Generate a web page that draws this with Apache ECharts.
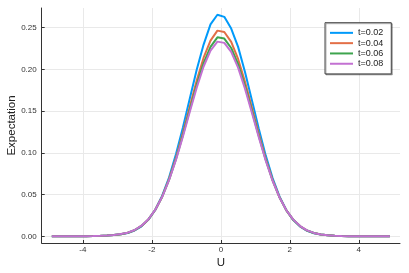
<!DOCTYPE html>
<html>
<head>
<meta charset="utf-8">
<script src="https://cdn.jsdelivr.net/npm/echarts@6/dist/echarts.min.js"></script>
<style>html,body{margin:0;padding:0;background:#fff}#c{width:409px;height:273px}</style>
</head>
<body>
<div id="c"></div>
<script>
// U grid: -4.9 .. 4.9, step 0.2
const U = [-4.9,-4.7,-4.5,-4.3,-4.1,-3.9,-3.7,-3.5,-3.3,-3.1,-2.9,-2.7,-2.5,-2.3,-2.1,-1.9,-1.7,-1.5,-1.3,-1.1,-0.9,-0.7,-0.5,-0.3,-0.1,
           0.1,0.3,0.5,0.7,0.9,1.1,1.3,1.5,1.7,1.9,2.1,2.3,2.5,2.7,2.9,3.1,3.3,3.5,3.7,3.9,4.1,4.3,4.5,4.7,4.9];
const t002 = [0,0,0,0,0,0.0001,0.0003,0.0005,0.0009,0.0015,0.0024,0.0040,0.0070,0.0120,0.0200,0.0318,0.0487,0.0708,0.0985,0.1305,0.1652,0.1995,0.2298,0.2540,0.2655,
              0.2630,0.2490,0.2270,0.1970,0.1630,0.1290,0.0970,0.0697,0.0478,0.0312,0.0195,0.0116,0.0066,0.0037,0.0021,0.0012,0.0006,0.0003,0.0001,0,0,0,0,0,0];
const t004 = [0,0,0,0,0,0.0001,0.0003,0.0005,0.0010,0.0016,0.0025,0.0042,0.0073,0.0124,0.0202,0.0318,0.0478,0.0688,0.0944,0.1240,0.1557,0.1868,0.2140,0.2345,0.2465,
              0.2448,0.2330,0.2125,0.1852,0.1543,0.1228,0.0932,0.0677,0.0470,0.0311,0.0197,0.0120,0.0069,0.0039,0.0021,0.0012,0.0006,0.0003,0.0001,0,0,0,0,0,0];
const t006 = [0,0,0,0,0,0.0001,0.0003,0.0006,0.0010,0.0016,0.0026,0.0043,0.0074,0.0125,0.0203,0.0318,0.0475,0.0679,0.0928,0.1213,0.1518,0.1815,0.2075,0.2270,0.2385,
              0.2370,0.2257,0.2062,0.1801,0.1505,0.1202,0.0917,0.0670,0.0467,0.0311,0.0198,0.0121,0.0070,0.0040,0.0022,0.0012,0.0006,0.0003,0.0001,0,0,0,0,0,0];
const t008 = [0,0,0,0,0,0.0001,0.0003,0.0006,0.0010,0.0017,0.0027,0.0044,0.0076,0.0127,0.0205,0.0319,0.0474,0.0675,0.0919,0.1197,0.1493,0.1782,0.2035,0.2225,0.2333,
              0.2318,0.2210,0.2022,0.1770,0.1481,0.1187,0.0909,0.0666,0.0466,0.0312,0.0200,0.0123,0.0072,0.0041,0.0022,0.0012,0.0006,0.0003,0.0001,0,0,0,0,0,0];
const seriesNames = ['t=0.02','t=0.04','t=0.06','t=0.08'];
const seriesData = [t002, t004, t006, t008];
const colors = ['#009AFA','#E36F47','#3EA44E','#C371D2'];
const xTicks = [-4,-2,0,2,4];
const yTicks = [0,0.05,0.10,0.15,0.20,0.25];

const font = 'Liberation Sans, Arial, Helvetica, sans-serif';
const chart = echarts.init(document.getElementById('c'), null, {renderer:'canvas'});
chart.setOption({
  animation:false,
  backgroundColor:'#fff',
  color: colors,
  grid:{left:41.7, right:9, top:8, bottom:30, containLabel:false, outerBoundsMode:'none'},
  legend:{
    left:325, top:22.7, orient:'vertical',
    data: seriesNames.map(n=>({name:n, icon:'rect'})),
    itemWidth:23, itemHeight:2, itemGap:0,
    padding:[5,8,5,5],
    borderColor:'#444', borderWidth:1, backgroundColor:'#fff',
    shadowColor:'rgba(0,0,0,0.3)', shadowOffsetX:1, shadowOffsetY:1, shadowBlur:0,
    textStyle:{fontFamily:font, fontSize:9, lineHeight:10.3, color:'#222'}
  },
  xAxis:{
    type:'value', min:-5.194, max:5.194,
    name:'U', nameLocation:'middle', nameGap:13.5, nameMoveOverlap:false,
    nameTextStyle:{fontFamily:font, fontSize:11.5, color:'#222'},
    axisLine:{show:true, onZero:false, lineStyle:{color:'#333', width:1}},
    axisTick:{show:true, inside:true, length:3, customValues:xTicks, lineStyle:{color:'#333'}},
    axisLabel:{customValues:xTicks, fontFamily:font, fontSize:8, color:'#333', margin:3,
      formatter:v=>String(v)},
    splitLine:{show:true, lineStyle:{color:'#e9e9e9', width:1}}
  },
  yAxis:{
    type:'value', min:-0.008, max:0.2736,
    name:'Expectation', nameLocation:'middle', nameGap:24, nameMoveOverlap:false,
    nameTextStyle:{fontFamily:font, fontSize:11.5, color:'#222'},
    axisLine:{show:true, onZero:false, lineStyle:{color:'#333', width:1}},
    axisTick:{show:true, inside:true, length:3, customValues:yTicks, lineStyle:{color:'#333'}},
    axisLabel:{customValues:yTicks, fontFamily:font, fontSize:8, color:'#333', margin:5,
      formatter:v=>v.toFixed(2)},
    splitLine:{show:true, lineStyle:{color:'#e9e9e9', width:1}}
  },
  series: seriesData.map((d,i)=>({
    name:seriesNames[i], type:'line', showSymbol:false, symbol:'none',
    data: U.map((u,j)=>[u,d[j]]),
    lineStyle:{width:2, color:colors[i]},
    itemStyle:{color:colors[i]},
    z: 2 + i
  }))
});
</script>
</body>
</html>
